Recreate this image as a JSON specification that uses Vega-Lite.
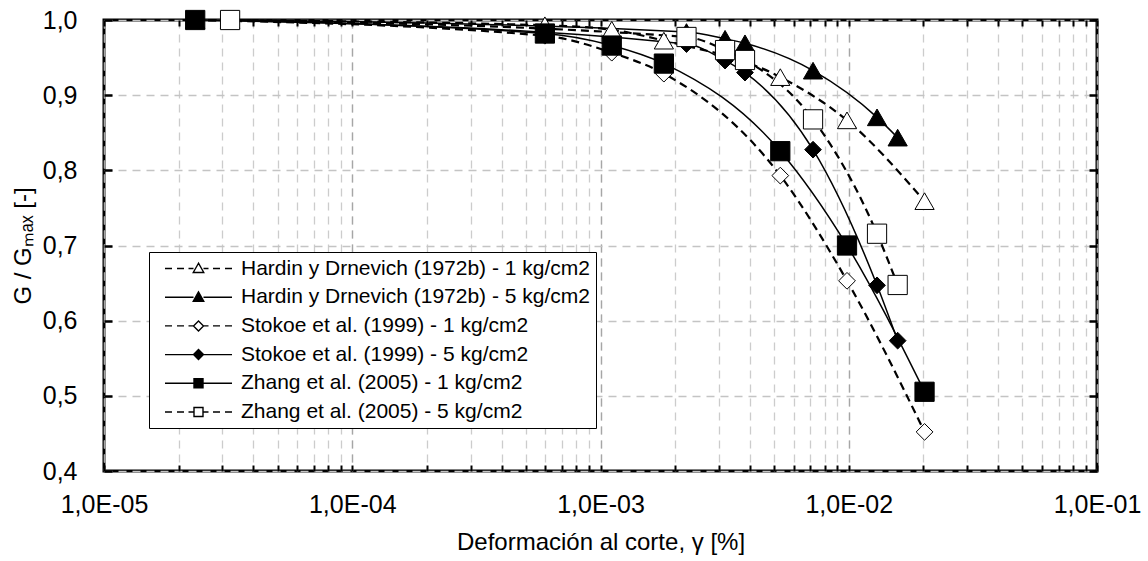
{
  "$schema": "https://vega.github.io/schema/vega-lite/v6.json",
  "width": 993,
  "height": 451,
  "autosize": "none",
  "padding": {"left": 104, "top": 20, "right": 51, "bottom": 90},
  "config": {
    "font": "Liberation Sans",
    "view": {"stroke": "black", "strokeWidth": 3},
    "axis": {"labelColor": "black", "titleColor": "black", "labelFont": "Liberation Sans", "titleFont": "Liberation Sans", "titleFontWeight": "normal"}
  },
  "data": {
    "values": [
      {"s": "Hardin y Drnevich (1972b) - 1 kg/cm2", "x": 0.0000233, "y": 1.0},
      {"s": "Hardin y Drnevich (1972b) - 1 kg/cm2", "x": 0.000597, "y": 0.993},
      {"s": "Hardin y Drnevich (1972b) - 1 kg/cm2", "x": 0.00111, "y": 0.987},
      {"s": "Hardin y Drnevich (1972b) - 1 kg/cm2", "x": 0.0018, "y": 0.9725},
      {"s": "Hardin y Drnevich (1972b) - 1 kg/cm2", "x": 0.0053, "y": 0.924},
      {"s": "Hardin y Drnevich (1972b) - 1 kg/cm2", "x": 0.00984, "y": 0.8665},
      {"s": "Hardin y Drnevich (1972b) - 1 kg/cm2", "x": 0.0202, "y": 0.759},
      {"s": "Hardin y Drnevich (1972b) - 5 kg/cm2", "x": 0.0000322, "y": 1.0},
      {"s": "Hardin y Drnevich (1972b) - 5 kg/cm2", "x": 0.00222, "y": 0.984},
      {"s": "Hardin y Drnevich (1972b) - 5 kg/cm2", "x": 0.003175, "y": 0.975},
      {"s": "Hardin y Drnevich (1972b) - 5 kg/cm2", "x": 0.00382, "y": 0.969},
      {"s": "Hardin y Drnevich (1972b) - 5 kg/cm2", "x": 0.00718, "y": 0.9326},
      {"s": "Hardin y Drnevich (1972b) - 5 kg/cm2", "x": 0.013, "y": 0.8705},
      {"s": "Hardin y Drnevich (1972b) - 5 kg/cm2", "x": 0.01574, "y": 0.8435},
      {"s": "Stokoe et al. (1999) - 1 kg/cm2", "x": 0.0000233, "y": 1.0},
      {"s": "Stokoe et al. (1999) - 1 kg/cm2", "x": 0.000597, "y": 0.979},
      {"s": "Stokoe et al. (1999) - 1 kg/cm2", "x": 0.00111, "y": 0.9565},
      {"s": "Stokoe et al. (1999) - 1 kg/cm2", "x": 0.0018, "y": 0.9286},
      {"s": "Stokoe et al. (1999) - 1 kg/cm2", "x": 0.0053, "y": 0.793},
      {"s": "Stokoe et al. (1999) - 1 kg/cm2", "x": 0.00984, "y": 0.653},
      {"s": "Stokoe et al. (1999) - 1 kg/cm2", "x": 0.0202, "y": 0.452},
      {"s": "Stokoe et al. (1999) - 5 kg/cm2", "x": 0.0000322, "y": 1.0},
      {"s": "Stokoe et al. (1999) - 5 kg/cm2", "x": 0.00222, "y": 0.968},
      {"s": "Stokoe et al. (1999) - 5 kg/cm2", "x": 0.003175, "y": 0.946},
      {"s": "Stokoe et al. (1999) - 5 kg/cm2", "x": 0.00382, "y": 0.93},
      {"s": "Stokoe et al. (1999) - 5 kg/cm2", "x": 0.00718, "y": 0.8275},
      {"s": "Stokoe et al. (1999) - 5 kg/cm2", "x": 0.013, "y": 0.647},
      {"s": "Stokoe et al. (1999) - 5 kg/cm2", "x": 0.01574, "y": 0.5734},
      {"s": "Zhang et al. (2005) - 1 kg/cm2", "x": 0.0000233, "y": 1.0},
      {"s": "Zhang et al. (2005) - 1 kg/cm2", "x": 0.000597, "y": 0.982},
      {"s": "Zhang et al. (2005) - 1 kg/cm2", "x": 0.00111, "y": 0.966},
      {"s": "Zhang et al. (2005) - 1 kg/cm2", "x": 0.0018, "y": 0.942},
      {"s": "Zhang et al. (2005) - 1 kg/cm2", "x": 0.0053, "y": 0.8255},
      {"s": "Zhang et al. (2005) - 1 kg/cm2", "x": 0.00984, "y": 0.7},
      {"s": "Zhang et al. (2005) - 1 kg/cm2", "x": 0.0202, "y": 0.5054},
      {"s": "Zhang et al. (2005) - 5 kg/cm2", "x": 0.0000322, "y": 1.0},
      {"s": "Zhang et al. (2005) - 5 kg/cm2", "x": 0.00222, "y": 0.9774},
      {"s": "Zhang et al. (2005) - 5 kg/cm2", "x": 0.003175, "y": 0.96},
      {"s": "Zhang et al. (2005) - 5 kg/cm2", "x": 0.00382, "y": 0.9468},
      {"s": "Zhang et al. (2005) - 5 kg/cm2", "x": 0.00718, "y": 0.8678},
      {"s": "Zhang et al. (2005) - 5 kg/cm2", "x": 0.013, "y": 0.7157},
      {"s": "Zhang et al. (2005) - 5 kg/cm2", "x": 0.01574, "y": 0.6475}
    ]
  },
  "layer": [
    {
      "transform": [{"filter": {"field": "s", "oneOf": ["Hardin y Drnevich (1972b) - 1 kg/cm2", "Stokoe et al. (1999) - 1 kg/cm2", "Zhang et al. (2005) - 5 kg/cm2"]}}],
      "mark": {"type": "line", "interpolate": "monotone", "color": "black", "strokeWidth": 2.2, "strokeDash": [8, 5]},
      "encoding": {
        "x": {
          "field": "x", "type": "quantitative",
          "scale": {"type": "log", "domain": [0.00001, 0.1], "nice": false},
          "axis": {
            "orient": "bottom",
            "values": [0.00001, 0.00002, 0.00003, 0.00004, 0.00005, 0.00006, 0.00007, 0.00008, 0.00009, 0.0001, 0.0002, 0.0003, 0.0004, 0.0005, 0.0006, 0.0007, 0.0008, 0.0009, 0.001, 0.002, 0.003, 0.004, 0.005, 0.006, 0.007, 0.008, 0.009, 0.01, 0.02, 0.03, 0.04, 0.05, 0.06, 0.07, 0.08, 0.09, 0.1],
            "grid": true, "gridColor": "#cccccc", "gridDash": [8, 6], "gridWidth": 1.3,
            "labels": false, "ticks": true, "tickSize": -6, "tickWidth": 2, "tickColor": "black",
            "domain": false, "title": null
          }
        },
        "y": {
          "field": "y", "type": "quantitative",
          "scale": {"domain": [0.4, 1.0], "nice": false, "zero": false},
          "axis": {
            "orient": "right", "values": [0.4, 0.5, 0.6, 0.7, 0.8, 0.9, 1.0],
            "grid": false, "labels": false, "ticks": true, "tickSize": -8, "tickWidth": 2.5, "tickColor": "black",
            "domain": false, "title": null
          }
        },
        "detail": {"field": "s", "type": "nominal"}
      }
    },
    {
      "transform": [{"filter": {"field": "s", "oneOf": ["Hardin y Drnevich (1972b) - 5 kg/cm2", "Stokoe et al. (1999) - 5 kg/cm2", "Zhang et al. (2005) - 1 kg/cm2"]}}],
      "mark": {"type": "line", "interpolate": "monotone", "color": "black", "strokeWidth": 1.5},
      "encoding": {
        "x": {"field": "x", "type": "quantitative", "axis": null},
        "y": {"field": "y", "type": "quantitative", "axis": null},
        "detail": {"field": "s", "type": "nominal"}
      }
    },
    {
      "mark": {"type": "point", "filled": true, "stroke": "black", "strokeWidth": 1, "opacity": 1},
      "encoding": {
        "x": {
          "field": "x", "type": "quantitative",
          "axis": {
            "orient": "bottom", "values": [0.00001, 0.0001, 0.001, 0.01, 0.1],
            "grid": true, "gridColor": "#a6a6a6", "gridDash": [8, 6], "gridWidth": 1.3,
            "ticks": false, "domain": false,
            "labelExpr": "'1,0E-0' + format(-log(datum.value) / LN10, '.0f')",
            "labelFontSize": 25, "labelPadding": 21, "labelFlush": false, "labelOverlap": false,
            "title": "Deformación al corte, γ [%]", "titleFontSize": 24, "titlePadding": 13
          }
        },
        "y": {
          "field": "y", "type": "quantitative",
          "axis": {
            "orient": "left", "values": [0.4, 0.5, 0.6, 0.7, 0.8, 0.9, 1.0],
            "grid": true, "gridColor": "#c4c4c4", "gridDash": [8, 6], "gridWidth": 1.3,
            "ticks": false, "domain": false,
            "labelExpr": "replace(format(datum.value, '.1f'), '.', ',')",
            "labelFontSize": 25, "labelPadding": 27, "labelFlush": false,
            "title": "G / Gₘₐₓ [-]", "titleFontSize": 24, "titlePadding": 7
          }
        },
        "shape": {
          "condition": [
            {"test": "indexof(datum.s, 'Hardin') >= 0", "value": "triangle-up"},
            {"test": "indexof(datum.s, 'Stokoe') >= 0", "value": "diamond"}
          ],
          "value": "square"
        },
        "fill": {
          "condition": [
            {"test": "datum.s === 'Hardin y Drnevich (1972b) - 5 kg/cm2'", "value": "black"},
            {"test": "datum.s === 'Stokoe et al. (1999) - 5 kg/cm2'", "value": "black"},
            {"test": "datum.s === 'Zhang et al. (2005) - 1 kg/cm2'", "value": "black"}
          ],
          "value": "white"
        },
        "size": {
          "condition": {"test": "indexof(datum.s, 'Stokoe') >= 0", "value": 280},
          "value": 370
        }
      }
    },
    {
      "mark": {"type": "point", "filled": true, "opacity": 0, "strokeWidth": 1.4},
      "encoding": {
        "x": {
          "field": "x", "type": "quantitative",
          "axis": {
            "orient": "top",
            "values": [0.00001, 0.00002, 0.00003, 0.00004, 0.00005, 0.00006, 0.00007, 0.00008, 0.00009, 0.0001, 0.0002, 0.0003, 0.0004, 0.0005, 0.0006, 0.0007, 0.0008, 0.0009, 0.001, 0.002, 0.003, 0.004, 0.005, 0.006, 0.007, 0.008, 0.009, 0.01, 0.02, 0.03, 0.04, 0.05, 0.06, 0.07, 0.08, 0.09, 0.1],
            "grid": false, "labels": false, "ticks": true, "tickSize": -6, "tickWidth": 2, "tickColor": "black",
            "domain": false, "title": null
          }
        },
        "y": {
          "field": "y", "type": "quantitative",
          "axis": {
            "orient": "left", "values": [0.4, 0.5, 0.6, 0.7, 0.8, 0.9, 1.0],
            "grid": false, "labels": false, "ticks": true, "tickSize": -8, "tickWidth": 2.5, "tickColor": "black",
            "domain": false, "title": null
          }
        },
        "shape": {
          "field": "s", "type": "nominal",
          "scale": {
            "domain": ["Hardin y Drnevich (1972b) - 1 kg/cm2", "Hardin y Drnevich (1972b) - 5 kg/cm2", "Stokoe et al. (1999) - 1 kg/cm2", "Stokoe et al. (1999) - 5 kg/cm2", "Zhang et al. (2005) - 1 kg/cm2", "Zhang et al. (2005) - 5 kg/cm2"],
            "range": [
              "M-6.7,0H-5.3M-4.3,0H-2.9M-2,0H-1M1,0H2M2.9,0H4.3M5.3,0H6.7M0,-1.05L-1.05,0.8L1.05,0.8Z",
              "M-6.7,0H-1M1,0H6.7M0,-1.05L-1.05,0.8L1.05,0.8Z",
              "M-6.7,0H-5.3M-4.3,0H-2.9M-2,0H-1M1,0H2M2.9,0H4.3M5.3,0H6.7M0,-1L1,0L0,1L-1,0Z",
              "M-6.7,0H-1M1,0H6.7M0,-1L1,0L0,1L-1,0Z",
              "M-6.7,0H-1M1,0H6.7M-0.9,-0.9H0.9V0.9H-0.9Z",
              "M-6.7,0H-5.3M-4.3,0H-2.9M-2,0H-1M1,0H2M2.9,0H4.3M5.3,0H6.7M-0.9,-0.9H0.9V0.9H-0.9Z"
            ]
          },
          "legend": {
            "orient": "none", "legendX": 45, "legendY": 232, "title": null,
            "padding": 6, "strokeColor": "black", "fillColor": "white",
            "labelFontSize": 21, "labelColor": "black", "labelFont": "Liberation Sans", "labelLimit": 500,
            "symbolSize": 100, "symbolOffset": 33, "labelOffset": 32, "rowPadding": 6.7,
            "symbolStrokeWidth": 1.4, "symbolOpacity": 1
          }
        },
        "fill": {
          "field": "s", "type": "nominal",
          "scale": {
            "domain": ["Hardin y Drnevich (1972b) - 1 kg/cm2", "Hardin y Drnevich (1972b) - 5 kg/cm2", "Stokoe et al. (1999) - 1 kg/cm2", "Stokoe et al. (1999) - 5 kg/cm2", "Zhang et al. (2005) - 1 kg/cm2", "Zhang et al. (2005) - 5 kg/cm2"],
            "range": ["white", "black", "white", "black", "black", "white"]
          }
        },
        "stroke": {
          "field": "s", "type": "nominal",
          "scale": {
            "domain": ["Hardin y Drnevich (1972b) - 1 kg/cm2", "Hardin y Drnevich (1972b) - 5 kg/cm2", "Stokoe et al. (1999) - 1 kg/cm2", "Stokoe et al. (1999) - 5 kg/cm2", "Zhang et al. (2005) - 1 kg/cm2", "Zhang et al. (2005) - 5 kg/cm2"],
            "range": ["black", "black", "black", "black", "black", "black"]
          }
        }
      }
    }
  ],
  "resolve": {"axis": {"x": "independent", "y": "independent"}}
}
